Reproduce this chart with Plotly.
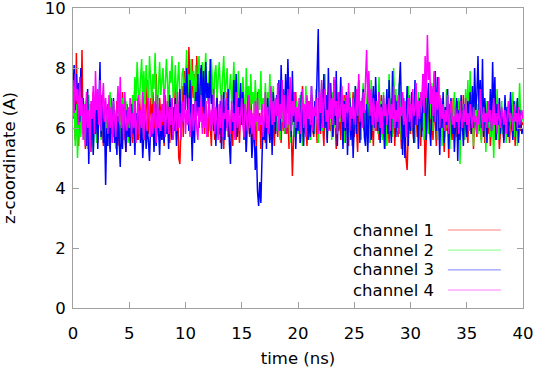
import plotly.graph_objects as go

# time grid (ns), 0.1 ns sampling
time_ns = [round(i * 0.1, 1) for i in range(401)]

channel_1 = [
    6.3, 7.4, 5.6, 8.5, 6.0, 5.4, 7.1, 6.2, 8.6, 5.8,
    6.6, 5.3, 7.0, 6.1, 5.7, 6.8, 5.2, 6.4, 7.2, 5.9,
    6.0, 6.9, 5.5, 6.3, 7.1, 5.8, 6.5, 5.4, 6.7, 6.1,
    5.6, 6.8, 6.2, 5.3, 7.0, 6.0, 5.7, 6.6, 5.5, 6.9,
    6.2, 5.4, 6.7, 5.9, 7.2, 5.6, 6.3, 5.2, 6.8, 6.0,
    5.8, 7.0, 6.1, 5.5, 6.6, 7.3, 5.9, 6.4, 5.6, 7.1,
    6.4, 5.7, 7.4, 6.0, 5.6, 6.9, 7.6, 5.8, 6.5, 7.0,
    5.9, 7.2, 6.3, 5.5, 7.8, 6.1, 5.7, 7.0, 6.4, 5.6,
    6.8, 5.4, 7.1, 6.2, 5.8, 7.3, 5.5, 6.6, 7.0, 5.9,
    6.3, 7.5, 5.6, 6.9, 5.0, 4.8, 6.2, 7.4, 5.7, 7.9,
    7.2, 8.1, 6.6, 8.7, 7.4, 6.5, 8.3, 7.0, 7.8, 6.4,
    8.4, 7.1, 6.2, 8.0, 7.3, 6.0, 7.6, 5.8, 6.9, 6.3,
    5.7, 6.8, 6.0, 5.4, 7.0, 6.2, 5.6, 6.5, 7.1, 5.8,
    6.4, 5.5, 6.9, 6.1, 5.3, 6.7, 6.0, 7.2, 5.7, 6.3,
    5.9, 6.6, 5.4, 7.0, 6.2, 5.6, 6.8, 6.0, 5.5, 6.7,
    6.1, 7.1, 5.8, 6.4, 5.2, 6.9, 6.3, 5.7, 7.0, 6.0,
    5.6, 6.7, 6.2, 5.4, 7.2, 5.9, 6.5, 5.3, 6.8, 6.1,
    6.0, 5.5, 6.9, 6.3, 5.8, 7.3, 5.6, 6.6, 6.0, 5.4,
    6.7, 6.1, 5.7, 7.0, 6.4, 5.5, 6.8, 5.9, 6.2, 7.1,
    5.8, 6.5, 5.3, 6.9, 6.0, 4.4, 5.6, 6.7, 7.2, 6.1,
    5.9, 6.8, 5.5, 6.3, 7.4, 5.8, 6.6, 6.0, 5.4, 6.9,
    6.2, 5.6, 7.1, 6.0, 5.7, 6.8, 6.3, 5.5, 7.0, 6.1,
    5.8, 6.7, 6.1, 5.4, 6.9, 6.4, 5.6, 7.2, 6.0, 5.9,
    6.5, 5.7, 6.8, 6.2, 5.3, 7.0, 5.9, 6.4, 5.6, 6.7,
    6.0, 7.1, 5.5, 6.6, 6.1, 5.4, 6.9, 5.8, 6.3, 7.2,
    5.7, 6.4, 6.0, 5.2, 6.8, 6.2, 5.6, 7.0, 6.1, 5.9,
    6.6, 5.8, 7.3, 6.0, 5.5, 6.7, 6.2, 5.4, 6.9, 6.3,
    5.9, 6.8, 5.6, 6.4, 7.1, 5.7, 6.1, 5.3, 6.6, 6.0,
    6.3, 5.5, 6.9, 6.0, 5.8, 7.0, 5.4, 6.5, 6.2, 5.7,
    6.8, 6.1, 5.3, 6.7, 5.9, 6.4, 5.0, 4.6, 6.2, 7.1,
    5.8, 6.6, 6.0, 5.5, 7.2, 6.3, 5.7, 6.9, 6.1, 5.4,
    6.5, 5.9, 6.8, 4.4, 5.6, 7.0, 6.2, 5.8, 6.7, 6.0,
    5.6, 6.9, 6.1, 5.4, 6.6, 5.9, 7.1, 5.7, 6.3, 6.0,
    5.2, 6.7, 5.9, 6.4, 5.0, 6.8, 6.1, 5.6, 7.0, 5.8,
    6.2, 5.7, 6.9, 6.0, 5.4, 6.5, 5.9, 7.1, 5.6, 6.3,
    6.0, 5.5, 6.8, 6.2, 5.8, 7.0, 5.3, 6.6, 6.1, 5.7,
    6.4, 5.9, 6.7, 5.6, 6.2, 6.9, 5.5, 6.3, 6.0, 5.8,
    6.6, 5.4, 6.1, 7.0, 5.8, 6.4, 5.6, 6.8, 6.2, 5.3,
    5.9, 6.5, 6.0, 5.6, 6.9, 6.2, 5.7, 6.6, 5.5, 6.3,
    6.1, 5.8, 6.7, 5.4, 6.4, 6.0, 5.7, 6.8, 5.9, 6.2,
    6.1,
]

channel_2 = [
    6.4, 7.2, 5.4, 6.8, 5.0, 6.3, 7.4, 5.7, 6.6, 6.0,
    5.6, 6.9, 6.2, 5.3, 7.1, 6.0, 5.8, 6.7, 5.2, 6.4,
    6.1, 5.5, 6.8, 6.3, 7.0, 5.6, 6.2, 5.9, 6.9, 5.4,
    6.6, 6.0, 5.7, 7.2, 6.3, 5.5, 6.8, 6.1, 5.3, 6.5,
    5.9, 6.7, 6.2, 5.6, 7.0, 6.4, 5.8, 6.9, 6.0, 5.5,
    6.3, 6.8, 5.9, 7.1, 6.5, 7.7, 6.9, 8.2, 7.3, 6.8,
    7.6, 8.3, 7.0, 7.9, 6.7, 8.1, 7.4, 6.9, 8.4, 7.2,
    6.8, 7.8, 7.3, 8.5, 7.0, 6.6, 7.7, 8.2, 7.1, 7.5,
    8.0, 6.9, 7.4, 8.3, 7.2, 6.7, 7.9, 7.5, 8.4, 7.0,
    7.3, 8.1, 6.8, 7.6, 8.2, 7.1, 6.5, 7.8, 8.0, 7.2,
    7.5, 8.6, 7.0, 7.8, 6.8, 8.3, 7.4, 7.9, 6.9, 8.1,
    7.2, 7.7, 8.4, 6.9, 7.5, 8.2, 7.0, 7.6, 8.5, 7.3,
    6.8, 7.9, 7.4, 8.3, 7.1, 6.6, 7.8, 8.1, 7.0, 7.6,
    8.2, 7.3, 6.9, 7.7, 8.4, 7.0, 7.5, 8.0, 6.7, 7.4,
    7.8, 6.8, 7.3, 8.2, 6.5, 7.6, 7.0, 7.9, 6.4, 7.2,
    6.6, 7.7, 7.1, 6.2, 8.0, 6.9, 7.4, 6.3, 7.8, 6.8,
    7.2, 6.4, 7.6, 6.9, 5.9, 7.3, 6.6, 7.9, 6.1, 7.0,
    6.5, 7.5, 6.0, 7.2, 6.7, 7.8, 6.2, 6.9, 7.4, 6.3,
    6.8, 5.9, 7.1, 6.4, 5.6, 6.9, 6.2, 7.3, 5.8, 6.6,
    6.0, 7.0, 6.3, 5.5, 6.8, 6.1, 7.2, 5.7, 6.5, 6.9,
    5.8, 6.6, 7.1, 6.0, 5.4, 6.7, 6.3, 7.4, 5.9, 6.2,
    6.8, 5.6, 6.4, 7.0, 6.1, 5.8, 7.3, 6.2, 5.5, 6.9,
    6.3, 7.5, 5.9, 6.6, 7.8, 6.0, 5.7, 7.1, 6.4, 6.8,
    5.6, 7.2, 6.5, 6.0, 7.6, 5.8, 6.9, 6.2, 7.3, 5.9,
    6.4, 5.5, 7.0, 6.1, 6.7, 5.7, 7.2, 6.3, 5.4, 6.8,
    6.0, 7.4, 5.8, 6.5, 7.0, 6.2, 5.6, 6.9, 7.5, 6.1,
    5.7, 6.8, 7.3, 6.0, 5.5, 7.6, 6.4, 5.9, 7.1, 6.3,
    6.6, 5.8, 7.7, 6.2, 6.9, 5.6, 7.2, 6.0, 6.7, 5.4,
    6.3, 7.8, 6.1, 7.0, 5.7, 8.0, 6.5, 7.3, 5.9, 6.8,
    7.5, 6.2, 5.6, 7.1, 6.4, 5.3, 6.9, 6.0, 7.4, 5.8,
    6.5, 5.9, 7.0, 6.2, 5.5, 6.8, 6.1, 7.2, 5.7, 6.4,
    6.0, 7.3, 5.6, 6.6, 7.6, 6.1, 5.8, 6.9, 6.3, 7.5,
    5.9, 7.8, 6.4, 7.1, 5.6, 7.7, 6.2, 6.8, 5.4, 7.0,
    6.5, 5.7, 7.3, 6.0, 6.7, 5.3, 6.9, 6.2, 5.8, 7.2,
    6.1, 6.6, 5.5, 7.0, 4.8, 6.4, 6.0, 6.8, 5.6, 7.3,
    6.2, 7.6, 5.9, 7.9, 6.5, 7.1, 5.4, 7.4, 6.3, 6.8,
    5.8, 7.0, 6.4, 5.5, 7.2, 6.1, 6.7, 5.2, 6.9, 6.0,
    6.6, 5.7, 7.1, 6.3, 5.0, 6.8, 6.0, 7.3, 5.6, 6.5,
    6.2, 6.9, 5.8, 6.4, 7.0, 5.5, 6.7, 6.1, 5.9, 6.8,
    6.0, 7.2, 5.7, 6.5, 6.9, 5.4, 6.6, 7.5, 6.1, 6.3,
    6.4,
]

channel_3 = [
    7.2, 8.1, 6.6, 7.8, 6.9, 7.5, 6.2, 8.0, 6.5, 7.0,
    5.9, 6.8, 5.4, 7.3, 4.8, 6.2, 5.6, 6.9, 5.1, 6.5,
    5.8, 7.0, 5.3, 6.4, 8.2, 5.7, 7.1, 5.5, 6.3, 4.1,
    6.0, 5.4, 6.8, 5.2, 6.5, 5.8, 7.0, 5.5, 6.2, 5.1,
    6.4, 5.6, 4.7, 6.1, 5.3, 6.7, 5.9, 5.2, 6.6, 5.7,
    6.0, 5.4, 6.8, 5.8, 6.3, 5.1, 6.5, 5.6, 7.0, 5.9,
    5.5, 6.2, 5.0, 5.8, 6.4, 5.3, 6.0, 5.6, 4.9, 6.1,
    5.7, 6.5, 5.2, 6.0, 5.4, 6.8, 5.9, 5.1, 6.3, 5.6,
    6.1, 5.5, 6.9, 5.8, 6.4, 5.3, 7.1, 6.0, 5.6, 6.7,
    5.9, 7.0, 5.4, 6.5, 6.1, 7.3, 5.7, 6.8, 6.2, 7.5,
    6.6, 8.0, 7.1, 5.9, 7.6, 6.3, 4.9, 6.8, 5.5, 7.2,
    6.4, 7.8, 6.0, 7.4, 8.1, 6.7, 7.9, 6.2, 8.2, 7.0,
    7.5, 6.4, 8.3, 6.8, 7.1, 5.9, 6.6, 5.4, 7.0, 6.2,
    5.8, 6.9, 5.3, 6.5, 7.2, 5.6, 6.8, 6.0, 7.3, 5.5,
    4.8, 6.6, 5.9, 7.6, 6.3, 7.8, 5.7, 7.0, 6.4, 7.5,
    6.1, 7.2, 5.6, 6.8, 5.2, 6.5, 7.1, 5.8, 6.3, 5.0,
    5.7, 6.2, 4.6, 5.4, 3.9, 3.4, 4.2, 3.5, 5.0, 6.1,
    5.6, 6.7, 5.3, 7.0, 6.0, 5.5, 6.8, 5.1, 7.2, 6.2,
    5.8, 7.1, 6.4, 7.6, 5.9, 8.1, 6.6, 7.3, 6.0, 7.8,
    6.5, 8.3, 6.9, 7.4, 5.7, 7.9, 6.2, 7.0, 5.3, 6.6,
    5.9, 6.8, 5.5, 7.2, 6.1, 5.4, 6.7, 6.0, 7.0, 5.6,
    6.3, 5.7, 7.4, 6.0, 5.8, 6.9, 6.4, 7.6, 9.3, 6.2,
    5.9, 7.3, 6.6, 7.8, 6.0, 7.1, 5.5, 8.0, 6.3, 7.5,
    6.8, 5.7, 7.6, 6.1, 7.9, 5.4, 7.2, 6.5, 7.7, 6.0,
    5.3, 6.9, 5.9, 7.2, 5.1, 6.4, 7.0, 5.6, 6.7, 5.0,
    6.2, 7.4, 5.8, 6.6, 7.6, 5.5, 6.9, 6.1, 7.3, 5.7,
    5.4, 6.8, 5.2, 6.3, 7.1, 5.6, 6.6, 7.4, 6.0, 7.7,
    6.5, 5.9, 7.2, 5.5, 6.8, 6.1, 7.0, 5.3, 6.4, 7.3,
    5.8, 7.6, 6.2, 5.5, 7.9, 6.4, 7.1, 5.7, 6.9, 6.0,
    7.4, 8.2, 6.5, 5.1, 7.0, 5.0, 6.3, 7.4, 5.4, 6.8,
    5.9, 7.2, 6.3, 5.5, 7.6, 6.1, 6.8, 5.3, 7.0, 6.4,
    5.7, 7.8, 6.5, 7.1, 5.6, 6.9, 7.5, 6.0, 5.4, 6.6,
    7.3, 6.2, 7.9, 5.9, 7.7, 6.4, 5.1, 6.8, 6.0, 7.2,
    5.5, 6.7, 6.1, 7.3, 5.3, 6.5, 7.0, 5.8, 6.4, 5.2,
    6.0, 7.0, 4.9, 6.6, 5.6, 7.1, 6.2, 5.4, 6.8, 6.1,
    5.7, 6.9, 6.3, 7.2, 5.8, 7.4, 6.0, 8.0, 6.6, 7.1,
    8.4, 6.5, 7.6, 6.0, 8.3, 5.7, 7.0, 6.4, 5.5, 6.9,
    6.2, 7.3, 5.9, 8.2, 6.5, 7.7, 5.6, 6.8, 6.1, 7.0,
    5.8, 6.6, 6.2, 5.5, 7.1, 6.0, 6.7, 5.7, 6.4, 7.2,
    6.1, 5.6, 6.9, 6.3, 5.9, 7.0, 5.5, 6.6, 6.2, 5.8,
    6.0,
]

channel_4 = [
    7.6, 6.5, 7.8, 6.9, 7.3, 6.1, 7.7, 6.4, 7.0, 5.6,
    6.8, 5.4, 7.2, 6.0, 6.6, 5.2, 6.9, 6.3, 7.4, 5.8,
    7.9, 6.6, 7.3, 6.1, 7.6, 5.9, 6.8, 7.5, 6.2, 7.0,
    6.4, 5.8, 7.1, 6.0, 6.7, 5.5, 6.9, 6.3, 5.7, 6.6,
    7.4, 6.2, 7.7, 6.0, 6.8, 5.6, 7.2, 6.4, 5.9, 6.7,
    6.1, 7.0, 5.7, 6.5, 6.0, 6.9, 5.5, 6.3, 7.1, 5.8,
    6.6, 6.0, 7.2, 5.6, 6.8, 6.2, 5.9, 7.0, 6.1, 5.7,
    6.5, 5.8, 6.9, 6.3, 5.5, 7.1, 6.0, 6.6, 5.9, 6.8,
    6.2, 7.3, 5.7, 6.4, 6.9, 5.8, 6.7, 6.1, 7.0, 5.6,
    6.3, 6.8, 5.9, 7.2, 6.0, 6.5, 5.6, 6.9, 6.2, 7.1,
    5.8, 6.6, 6.1, 7.0, 5.7, 6.4, 6.8, 5.9, 6.3, 6.9,
    6.0, 5.6, 6.7, 6.2, 7.1, 5.8, 6.5, 6.0, 6.9, 5.7,
    6.4, 7.0, 5.9, 6.6, 6.1, 7.3, 5.8, 6.7, 6.2, 5.6,
    6.8, 6.0, 7.1, 5.7, 6.5, 6.3, 7.0, 5.9, 6.6, 6.1,
    5.8, 6.9, 6.2, 6.5, 5.6, 7.2, 6.0, 6.7, 5.9, 6.4,
    7.0, 6.1, 5.7, 6.8, 6.3, 5.9, 7.1, 6.0, 6.6, 5.8,
    6.5, 5.6, 6.9, 6.2, 7.0, 5.9, 6.4, 6.1, 6.8, 5.7,
    6.3, 7.2, 6.0, 6.7, 5.8, 6.5, 7.4, 6.1, 6.9, 6.2,
    7.0, 6.4, 7.5, 5.9, 6.8, 6.3, 7.6, 6.0, 7.1, 5.8,
    6.6, 7.3, 6.1, 7.7, 5.9, 6.9, 6.4, 7.2, 6.0, 6.7,
    6.2, 7.0, 5.8, 6.6, 7.3, 6.0, 6.8, 5.7, 7.1, 6.3,
    6.9, 6.1, 7.4, 5.9, 6.7, 6.4, 7.0, 6.2, 5.8, 7.2,
    6.5, 7.6, 6.0, 6.8, 7.3, 6.2, 6.6, 5.9, 7.5, 6.3,
    7.0, 6.1, 7.7, 6.4, 6.9, 5.8, 7.2, 6.3, 6.6, 7.4,
    6.2, 6.8, 6.0, 7.1, 6.5, 7.5, 5.9, 6.7, 6.3, 7.0,
    6.6, 6.1, 7.3, 6.4, 7.8, 6.2, 6.9, 6.0, 7.2, 6.5,
    7.6, 8.6, 6.8, 7.9, 6.4, 7.3, 6.1, 7.0, 6.6, 5.9,
    6.9, 6.2, 7.2, 6.0, 6.7, 5.8, 7.1, 6.4, 6.8, 6.1,
    6.5, 7.0, 5.9, 6.8, 6.3, 7.4, 6.0, 6.6, 6.2, 7.1,
    5.8, 6.7, 6.4, 7.2, 6.1, 6.9, 5.7, 6.5, 7.0, 6.2,
    6.8, 6.0, 7.3, 6.4, 6.6, 7.5, 6.1, 6.9, 6.3, 7.2,
    6.7, 7.8, 6.5, 8.4, 7.0, 9.1, 7.6, 8.2, 6.8, 7.4,
    6.4, 7.9, 6.2, 7.2, 6.6, 7.7, 6.0, 7.0, 6.3, 6.8,
    5.9, 6.6, 6.2, 7.1, 5.8, 6.5, 6.9, 6.1, 6.4, 6.0,
    6.7, 6.2, 6.5, 5.8, 6.9, 6.3, 6.0, 6.6, 6.2, 7.0,
    6.1, 6.5, 5.9, 6.8, 6.3, 6.0, 6.7, 6.2, 6.4, 5.8,
    6.6, 6.1, 7.3, 6.3, 5.9, 6.7, 6.2, 6.5, 6.0, 6.9,
    6.2, 6.6, 5.9, 6.4, 7.0, 6.1, 6.5, 5.8, 6.8, 6.3,
    6.0, 6.7, 6.3, 6.1, 6.6, 5.8, 6.4, 6.9, 6.2, 6.5,
    6.3, 5.9, 6.8, 6.2, 6.5, 6.0, 6.7, 6.1, 6.4, 6.6,
    6.3,
]

series_names = ["channel 1", "channel 2", "channel 3", "channel 4"]
series_values = [channel_1, channel_2, channel_3, channel_4]
colors = ["#ff0000", "#00ff00", "#0000ff", "#ff00ff"]
legend_colors = ["#ff8080", "#80ff80", "#8080ff", "#ff80ff"]

x_ticks = [0, 5, 10, 15, 20, 25, 30, 35, 40]
y_ticks = [0, 2, 4, 6, 8, 10]

FONT = "DejaVu Sans"
FS = 16.5
AXIS_GRAY = "#a0a0a0"

fig = go.Figure()
for name, vals, col in zip(series_names, series_values, colors):
    fig.add_trace(go.Scatter(
        x=time_ns, y=vals, mode="lines", name=name,
        line=dict(color=col, width=1.5), showlegend=False,
    ))

# gnuplot-style key: text on the left, line sample on the right
leg_y = [0.26, 0.193, 0.127, 0.06]
for name, col, yy in zip(series_names, legend_colors, leg_y):
    fig.add_annotation(
        x=0.807, y=yy, xref="paper", yref="paper", text=name,
        showarrow=False, xanchor="right", yanchor="middle",
        font=dict(family=FONT, size=FS, color="black"),
    )
    fig.add_shape(
        type="line", xref="paper", yref="paper",
        x0=0.833, x1=0.951, y0=yy, y1=yy,
        line=dict(color=col, width=1),
    )

axis_common = dict(
    showgrid=False, zeroline=False, showline=True, linecolor=AXIS_GRAY,
    linewidth=1, mirror="ticks", ticks="inside", ticklen=6,
    tickcolor=AXIS_GRAY, ticklabeloverflow="allow",
    tickfont=dict(family=FONT, size=FS, color="black"),
)

fig.update_xaxes(
    range=[0, 40], tickvals=x_ticks, ticktext=[str(v) for v in x_ticks],
    ticklabelstandoff=10,
    title=dict(text="time (ns)", font=dict(family=FONT, size=FS, color="black"), standoff=23),
    **axis_common,
)
fig.update_yaxes(
    range=[0, 10], tickvals=y_ticks, ticktext=[str(v) for v in y_ticks],
    ticklabelstandoff=3,
    title=dict(text="z-coordinate (A)", font=dict(family=FONT, size=FS, color="black"), standoff=30),
    **axis_common,
)

fig.update_layout(
    width=536, height=368,
    margin=dict(l=73, r=13, t=8, b=60, autoexpand=False),
    paper_bgcolor="white", plot_bgcolor="white",
    font=dict(family=FONT, size=FS, color="black"),
)

fig.write_html(
    "out.html",
    config={"displayModeBar": False},
    post_script="document.body.style.margin='0';document.body.style.overflow='hidden';",
)
